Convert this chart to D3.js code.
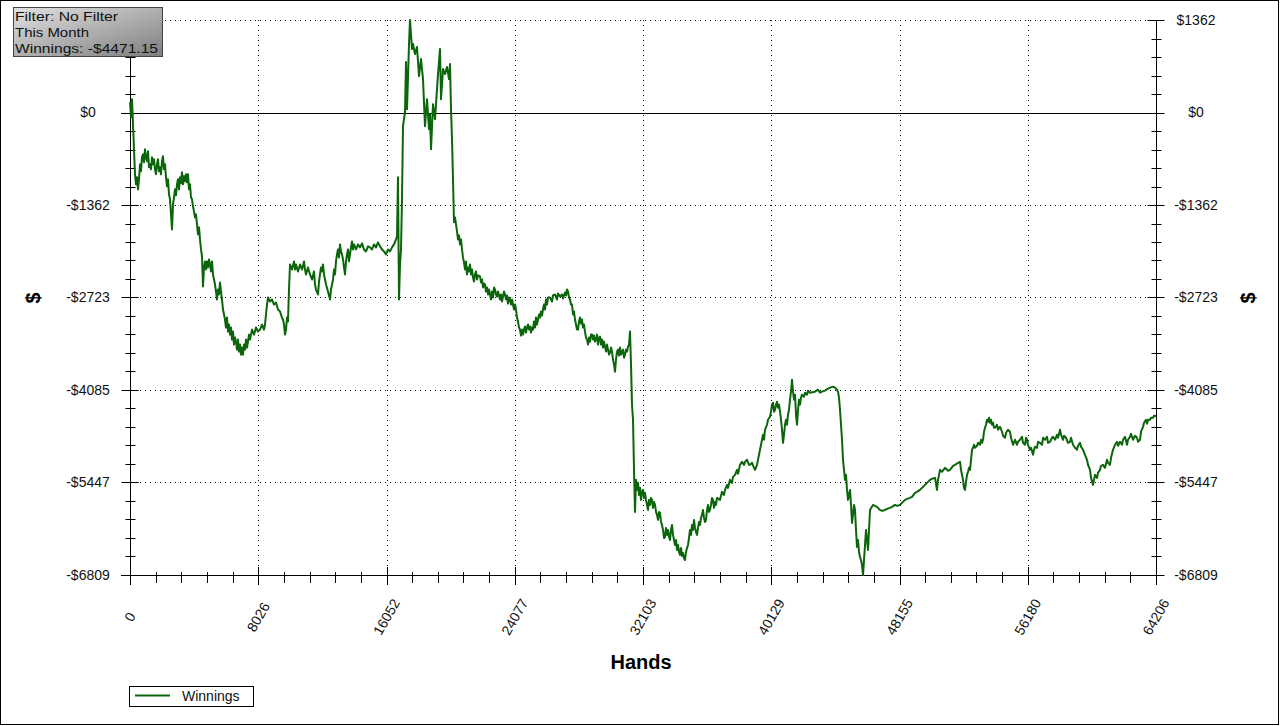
<!DOCTYPE html>
<html><head><meta charset="utf-8">
<script src="https://cdn.jsdelivr.net/npm/d3@7"></script>
<style>body{margin:0;background:#fff} svg{display:block} text{font-family:"Liberation Sans",Arial,sans-serif}</style>
</head><body><svg id="c" width="1284" height="726"></svg>
<script>
// [hand, cumulative winnings $]
const winningsSeries = [
[0,153],[63,-69],[125,197],[188,-172],[250,-541],[313,-909],[375,-1057],[438,-954],[501,-1131],[563,-983],[626,-762],[688,-865],[751,-659],[814,-614],[876,-732],[939,-541],[1001,-659],[1064,-718],[1126,-570],[1189,-806],[1252,-762],[1314,-836],[1377,-659],[1439,-762],[1502,-688],[1565,-836],[1627,-909],[1690,-762],[1752,-688],[1815,-865],[1877,-806],[1940,-909],[2002,-718],[2065,-644],[2128,-836],[2190,-762],[2253,-954],[2315,-1086],[2378,-983],[2440,-1204],[2503,-1278],[2566,-1499],[2628,-1721],[2691,-1352],[2753,-1249],[2816,-1131],[2879,-1219],[2941,-1057],[3004,-983],[3066,-1131],[3129,-954],[3192,-1042],[3254,-880],[3317,-1057],[3379,-939],[3442,-1013],[3504,-909],[3567,-1027],[3630,-909],[3692,-1131],[3755,-1057],[3817,-1249],[3880,-1278],[3943,-1381],[4005,-1455],[4068,-1544],[4130,-1499],[4193,-1647],[4255,-1794],[4318,-1691],[4381,-1868],[4443,-2016],[4506,-2119],[4568,-2561],[4631,-2281],[4694,-2193],[4756,-2311],[4819,-2193],[4881,-2281],[4944,-2163],[5006,-2237],[5069,-2340],[5132,-2193],[5194,-2384],[5257,-2458],[5319,-2532],[5382,-2635],[5444,-2753],[5507,-2606],[5570,-2679],[5632,-2502],[5695,-2635],[5757,-2753],[5820,-2901],[5883,-2974],[5945,-3048],[6008,-3166],[6070,-3019],[6133,-3225],[6195,-3122],[6258,-3270],[6321,-3166],[6383,-3343],[6446,-3225],[6508,-3417],[6571,-3314],[6633,-3373],[6696,-3491],[6759,-3343],[6821,-3520],[6884,-3417],[6946,-3565],[7009,-3461],[7072,-3565],[7134,-3417],[7197,-3491],[7259,-3343],[7322,-3461],[7384,-3373],[7447,-3270],[7510,-3343],[7635,-3196],[7760,-3270],[7885,-3166],[8010,-3225],[8135,-3196],[8261,-3122],[8386,-3196],[8448,-3122],[8511,-2974],[8573,-2827],[8636,-2724],[8761,-2783],[8886,-2753],[9012,-2827],[9137,-2797],[9262,-2901],[9387,-2930],[9512,-3019],[9575,-3048],[9637,-3122],[9700,-3270],[9762,-3196],[9825,-3019],[9888,-3078],[9950,-2606],[10013,-2237],[10138,-2311],[10263,-2193],[10326,-2311],[10388,-2237],[10513,-2340],[10639,-2237],[10764,-2311],[10889,-2193],[10952,-2311],[11014,-2384],[11139,-2281],[11264,-2384],[11390,-2458],[11515,-2340],[11577,-2532],[11640,-2606],[11765,-2679],[11828,-2488],[11890,-2384],[11953,-2281],[12015,-2340],[12078,-2237],[12141,-2384],[12203,-2458],[12266,-2532],[12391,-2635],[12516,-2753],[12579,-2606],[12704,-2458],[12766,-2311],[12829,-2384],[12891,-2193],[12954,-2089],[13017,-2016],[13079,-2134],[13142,-1942],[13204,-2045],[13267,-2089],[13330,-2163],[13392,-2281],[13455,-2384],[13517,-2193],[13580,-2089],[13642,-2016],[13705,-2193],[13768,-2089],[13830,-1986],[13893,-1898],[13955,-2016],[14018,-1942],[14143,-2016],[14268,-1942],[14393,-1986],[14519,-1927],[14644,-2016],[14769,-2045],[14894,-1971],[15019,-1986],[15144,-2016],[15270,-1942],[15395,-1986],[15520,-1912],[15645,-1971],[15770,-2016],[15895,-2045],[16020,-2089],[16146,-2016],[16271,-2045],[16396,-1986],[16521,-1942],[16646,-1868],[16709,-1824],[16771,-954],[16834,-2753],[16897,-2237],[16959,-2016],[17022,-1278],
[17084,-201],[17210,5],[17272,743],[17335,49],[17460,1008],[17522,1362],[17648,934],[17710,1008],[17835,861],[17960,964],[18086,536],[18211,787],[18336,492],[18461,-201],[18586,197],[18711,-246],[18774,-24],[18837,-541],[18962,123],[19087,-98],[19212,344],[19275,566],[19400,934],[19463,197],[19588,640],[19713,566],[19838,669],[19963,492],[20026,713],[20088,49],[20151,-393],[20213,-983],
[20276,-1617],[20338,-1544],[20401,-1647],[20464,-1750],[20526,-1868],[20589,-1809],[20651,-1942],[20714,-1868],[20777,-2016],[20839,-2134],[20902,-2207],[20964,-2311],[21027,-2193],[21089,-2384],[21152,-2281],[21215,-2340],[21277,-2237],[21340,-2384],[21402,-2311],[21465,-2428],[21528,-2488],[21590,-2384],[21653,-2340],[21715,-2458],[21778,-2399],[21903,-2414],[21966,-2502],[22028,-2458],[22091,-2576],[22153,-2517],[22216,-2532],[22278,-2635],[22341,-2576],[22404,-2679],[22466,-2606],[22529,-2679],[22591,-2753],[22654,-2635],[22717,-2724],[22779,-2576],[22842,-2606],[22904,-2679],[22967,-2709],[23029,-2635],[23155,-2753],[23217,-2679],[23280,-2783],[23343,-2709],[23405,-2635],[23468,-2679],[23530,-2753],[23593,-2694],[23655,-2812],[23718,-2724],[23780,-2753],[23843,-2827],[23906,-2753],[23968,-2827],[24031,-2901],[24093,-2827],[24156,-2901],[24218,-3019],[24281,-3078],[24344,-3166],[24406,-3196],[24469,-3284],[24531,-3196],[24594,-3270],[24656,-3196],[24719,-3151],[24782,-3240],[24844,-3166],[24907,-3122],[24969,-3196],[25032,-3151],[25094,-3240],[25157,-3166],[25220,-3196],[25282,-3078],[25345,-3166],[25407,-3019],[25470,-3122],[25533,-3048],[25595,-2974],[25658,-3019],[25720,-2930],[25783,-2989],[25845,-2901],[25908,-2827],[25971,-2901],[26033,-2753],[26096,-2827],[26158,-2724],[26284,-2724],[26409,-2783],[26471,-2694],[26597,-2679],[26722,-2753],[26784,-2665],[26909,-2709],[27035,-2679],[27097,-2738],[27222,-2650],[27285,-2694],[27347,-2606],[27410,-2635],[27473,-2724],[27535,-2753],[27598,-2827],[27660,-2827],[27723,-2974],[27785,-2930],[27848,-3048],[27911,-3122],[27973,-3196],[28036,-3196],[28098,-3078],[28161,-3019],[28223,-3107],[28286,-3048],[28349,-3166],[28411,-3122],[28474,-3225],[28536,-3314],[28599,-3343],[28662,-3417],[28724,-3314],[28787,-3373],[28849,-3270],[28912,-3270],[28974,-3343],[29037,-3284],[29100,-3373],[29162,-3343],[29225,-3270],[29287,-3417],[29350,-3314],[29413,-3299],[29475,-3417],[29538,-3343],[29600,-3461],[29663,-3373],[29726,-3447],[29788,-3520],[29851,-3417],[29913,-3491],[29976,-3565],[30038,-3535],[30101,-3461],[30164,-3520],[30226,-3638],[30289,-3712],[30351,-3815],[30414,-3638],[30476,-3520],[30539,-3491],[30602,-3579],[30664,-3461],[30727,-3565],[30789,-3520],[30852,-3491],[30915,-3609],[30977,-3565],[31040,-3491],[31102,-3520],[31165,-3447],[31228,-3417],[31290,-3225],[31353,-3712],[31415,-4302],
[31478,-4523],[31540,-5261],[31603,-5880],[31665,-5408],[31728,-5556],[31791,-5452],[31853,-5630],[31916,-5526],[31978,-5703],[32041,-5585],[32104,-5556],[32166,-5674],[32229,-5600],[32291,-5703],[32354,-5777],[32416,-5851],[32479,-5703],[32542,-5777],[32604,-5674],[32667,-5703],[32729,-5821],[32792,-5733],[32855,-5777],[32917,-5880],[32980,-5924],[33042,-5998],[33105,-5880],[33167,-5895],[33230,-6028],[33293,-6072],[33355,-6146],[33418,-6264],[33480,-6249],[33543,-6116],[33605,-6219],[33668,-6146],[33731,-6249],[33793,-6293],[33856,-6146],[33918,-6072],[33981,-6219],[34044,-6293],[34106,-6367],[34169,-6293],[34231,-6441],[34294,-6367],[34356,-6470],[34419,-6514],[34482,-6411],[34544,-6529],[34607,-6485],[34669,-6559],[34732,-6588],[34795,-6470],[34857,-6411],[34920,-6367],[34982,-6264],[35045,-6146],[35108,-6219],[35170,-6072],[35233,-6146],[35295,-5998],[35358,-6116],[35420,-6175],[35483,-6219],[35546,-6116],[35608,-6028],[35671,-6072],[35733,-5969],[35796,-5924],[35858,-5851],[35921,-5969],[35984,-6028],[36046,-5998],[36109,-5851],[36171,-5777],[36234,-5880],[36296,-5851],[36359,-5777],[36422,-5674],[36484,-5703],[36547,-5821],[36609,-5733],[36672,-5777],[36735,-5674],[36922,-5703],[37047,-5585],[37172,-5630],[37235,-5556],[37360,-5482],[37423,-5526],[37548,-5408],[37673,-5452],[37736,-5364],[37861,-5335],[37986,-5261],[38049,-5320],[38174,-5187],[38299,-5143],[38424,-5187],[38487,-5143],[38612,-5113],[38737,-5187],[38800,-5187],[38925,-5157],[39050,-5231],[39113,-5261],[39238,-5187],[39300,-5113],[39425,-4966],[39488,-4892],[39551,-4818],[39613,-4744],[39676,-4818],[39738,-4671],[39863,-4597],[39926,-4523],[40051,-4479],[40114,-4405],[40176,-4302],[40239,-4272],[40301,-4405],[40364,-4376],[40427,-4302],[40489,-4258],[40552,-4346],[40614,-4302],[40677,-4405],[40740,-4523],[40802,-4671],[40865,-4863],[40927,-4744],[40990,-4597],[41052,-4523],[41115,-4597],[41178,-4449],[41240,-4376],[41303,-4228],[41365,-4110],[41428,-3933],[41491,-4110],[41553,-4228],[41616,-4154],[41678,-4449],[41741,-4597],[41804,-4376],[41866,-4228],[41929,-4302],[41991,-4199],[42054,-4154],[42179,-4184],[42242,-4125],[42367,-4154],[42429,-4095],[42554,-4125],[42867,-4110],[43055,-4081],[43180,-4125],[43305,-4110],[43493,-4095],[43681,-4066],[43806,-4051],[43994,-4036],[44119,-4051],[44244,-4081],[44307,-4110],[44369,-4199],[44432,-4376],[44494,-4597],[44557,-4818],[44620,-5113],[44682,-5261],[44745,-5408],[44807,-5335],[44870,-5556],[44932,-5703],[44995,-5630],[45058,-5556],[45120,-5777],[45183,-6042],[45245,-5924],[45308,-5777],[45371,-5851],[45433,-6146],[45496,-6396],[45558,-6293],[45621,-6470],[45683,-6544],[45746,-6588],[45809,-6662],[45871,-6809],[45934,-6588],[45996,-6367],[46059,-6146],[46121,-6293],[46184,-6441],[46247,-6146],[46309,-5851],
[46497,-5777],[46622,-5792],[46747,-5806],[46935,-5851],[47060,-5865],[47248,-5851],[47373,-5836],[47561,-5821],[47686,-5806],[47874,-5777],[47999,-5792],[48187,-5777],[48312,-5747],[48500,-5703],[48625,-5688],[48812,-5674],[48938,-5659],[49125,-5600],[49250,-5585],[49438,-5556],[49563,-5526],[49751,-5482],[49876,-5452],[50064,-5408],[50189,-5393],[50377,-5379],[50502,-5556],[50565,-5408],[50690,-5261],[50815,-5290],[51003,-5231],[51191,-5275],[51316,-5261],[51504,-5202],[51629,-5187],[51816,-5157],[51941,-5143],
[52004,-5261],[52067,-5335],[52129,-5408],[52192,-5526],[52254,-5556],[52317,-5438],[52379,-5335],[52442,-5290],[52505,-5231],[52567,-5261],[52630,-5113],[52692,-4966],[52755,-4936],[52818,-4892],[52880,-4936],[53005,-4907],[53068,-4863],[53193,-4892],[53256,-4818],[53318,-4863],[53381,-4818],[53443,-4700],[53506,-4641],[53568,-4597],[53631,-4523],[53694,-4553],[53756,-4494],[53819,-4567],[53881,-4523],[53944,-4597],[54007,-4567],[54069,-4641],[54132,-4641],[54257,-4597],[54319,-4671],[54445,-4627],[54570,-4700],[54632,-4759],[54758,-4789],[54820,-4715],[54945,-4671],[55070,-4700],[55133,-4789],[55258,-4892],[55383,-4818],[55508,-4892],[55571,-4848],[55696,-4818],[55821,-4774],[55884,-4863],[56009,-4892],[56072,-4789],[56134,-4818],[56197,-4892],[56322,-4966],[56385,-4936],[56510,-5040],[56572,-4966],[56635,-4921],[56760,-4936],[56823,-4848],[56948,-4863],[57073,-4892],[57136,-4789],[57261,-4818],[57386,-4774],[57448,-4863],[57574,-4848],[57699,-4789],[57761,-4774],[57887,-4818],[58012,-4744],[58074,-4789],[58199,-4671],[58262,-4744],[58387,-4818],[58450,-4759],[58575,-4789],[58700,-4863],[58825,-4848],[58888,-4789],[59013,-4892],[59138,-4936],[59263,-4966],[59326,-4907],[59451,-4863],[59514,-4921],[59639,-4966],[59764,-5040],[59889,-5113],[59952,-5187],[60077,-5261],[60140,-5379],[60265,-5482],[60327,-5408],[60390,-5335],[60515,-5379],[60577,-5305],[60703,-5261],[60765,-5202],[60890,-5187],[61016,-5231],[61141,-5113],[61203,-5157],[61328,-5187],[61391,-5084],[61516,-4966],[61641,-4892],[61766,-4848],[61829,-4907],[61954,-4848],[62079,-4892],[62142,-4818],[62267,-4774],[62392,-4892],[62455,-4818],[62580,-4774],[62643,-4730],[62768,-4818],[62893,-4759],[63018,-4789],[63081,-4848],[63206,-4818],[63268,-4700],[63393,-4627],[63456,-4567],[63581,-4523],[63644,-4582],[63706,-4523],[63832,-4523],[63894,-4494],[64019,-4494],[64082,-4464],[64206,-4471.15]
];
const xTicks = [0, 8026, 16052, 24077, 32103, 40129, 48155, 56180, 64206];
const yTicks = [1362, 0, -1362, -2723, -4085, -5447, -6809];
const yTickLabels = ["$1362", "$0", "-$1362", "-$2723", "-$4085", "-$5447", "-$6809"];
const filterLines = ["Filter: No Filter", "This Month", "Winnings: -$4471.15"];
const seriesName = "Winnings";
const xTitle = "Hands";
const yTitle = "$";

const svg = d3.select("#c");
const L = 130, R = 1156, T = 20, B = 575;
const x = d3.scaleLinear().domain([0, 64206]).range([L, R]);
const y = d3.scaleLinear().domain([-6809, 1362]).range([B, T]);
const px = v => Math.round(x(v)) + 0.5;
const py = v => Math.round(y(v)) + 0.5;
const green = "#0b650b";

svg.append("rect").attr("width", 1284).attr("height", 726).attr("fill", "#fff");
svg.append("rect").attr("x", 0.5).attr("y", 0.5).attr("width", 1278).attr("height", 724)
  .attr("fill", "none").attr("stroke", "#000");

// grid
const g = svg.append("g");
xTicks.slice(1, -1).forEach(t => {
  g.append("line").attr("x1", px(t)).attr("x2", px(t)).attr("y1", T).attr("y2", B)
    .attr("stroke", "#000").attr("stroke-dasharray", "1,4");
});
yTicks.filter(t => t !== 0 && t !== -6809).forEach(t => {
  g.append("line").attr("x1", L).attr("x2", R).attr("y1", py(t)).attr("y2", py(t))
    .attr("stroke", "#000").attr("stroke-dasharray", "1,4");
});
g.append("line").attr("x1", L - 9).attr("x2", R + 8).attr("y1", py(0)).attr("y2", py(0)).attr("stroke", "#000");

// axes
const ax = svg.append("g").attr("stroke", "#000");
ax.append("line").attr("x1", px(0)).attr("x2", px(0)).attr("y1", T).attr("y2", B + 9);
ax.append("line").attr("x1", px(64206)).attr("x2", px(64206)).attr("y1", T).attr("y2", B + 9);
ax.append("line").attr("x1", L - 9).attr("x2", R + 8).attr("y1", py(-6809)).attr("y2", py(-6809));

function minors(arr) {
  const out = [];
  for (let i = 0; i < arr.length - 1; i++) {
    for (let k = 1; k < 5; k++) out.push(arr[i] + (arr[i + 1] - arr[i]) * k / 5);
  }
  return out;
}
const ySorted = yTicks.slice().sort((a, b) => a - b);
[px(0), px(64206)].forEach(ax0 => {
  yTicks.forEach(t => ax.append("line").attr("x1", ax0 - 9).attr("x2", ax0 + 8).attr("y1", py(t)).attr("y2", py(t)));
  minors(ySorted).forEach(t => ax.append("line").attr("x1", ax0 - 5).attr("x2", ax0 + 5).attr("y1", py(t)).attr("y2", py(t)));
});
xTicks.forEach(t => ax.append("line").attr("x1", px(t)).attr("x2", px(t)).attr("y1", B - 8).attr("y2", B + 10));
minors(xTicks).forEach(t => ax.append("line").attr("x1", px(t)).attr("x2", px(t)).attr("y1", B - 3).attr("y2", B + 8));

// y labels (the left top label sits under the filter box in the reference)
yTicks.forEach((t, i) => {
  if (i > 0) {
    svg.append("text").attr("x", 88).attr("y", y(t)).attr("dy", "0.35em").attr("text-anchor", "middle")
      .attr("font-size", 14).attr("fill", "#111").text(yTickLabels[i]);
  }
  svg.append("text").attr("x", 1196).attr("y", y(t)).attr("dy", "0.35em").attr("text-anchor", "middle")
    .attr("font-size", 14).attr("fill", "#111").text(yTickLabels[i]);
});
xTicks.forEach(t => {
  svg.append("text").attr("transform", `translate(${x(t)},617) rotate(-60)`).attr("dy", "0.35em")
    .attr("text-anchor", "middle").attr("font-size", 14).attr("fill", "#111").text(d3.format("d")(t));
});

svg.append("text").attr("x", 641).attr("y", 669).attr("text-anchor", "middle").attr("font-size", 20)
  .attr("font-weight", "bold").text(xTitle);
[33, 1248].forEach(cx => {
  svg.append("text").attr("transform", `translate(${cx},298) rotate(-90)`).attr("dy", "0.35em")
    .attr("text-anchor", "middle").attr("font-size", 20).attr("font-weight", "bold").text(yTitle);
});

// series
const line = d3.line().x(d => x(d[0])).y(d => y(d[1]));
svg.append("path").datum(winningsSeries).attr("d", line).attr("fill", "none")
  .attr("stroke", green).attr("stroke-width", 2).attr("stroke-linejoin", "round");

// legend
svg.append("rect").attr("x", 129.5).attr("y", 686.5).attr("width", 124).attr("height", 20)
  .attr("fill", "#fff").attr("stroke", "#000");
svg.append("line").attr("x1", 135).attr("x2", 170).attr("y1", 695.5).attr("y2", 695.5)
  .attr("stroke", green).attr("stroke-width", 2);
svg.append("text").attr("x", 182).attr("y", 696).attr("dy", "0.35em").attr("font-size", 14).attr("fill", "#111").text(seriesName);

// filter box
const defs = svg.append("defs");
const grad = defs.append("linearGradient").attr("id", "fg").attr("x1", "0").attr("y1", "0").attr("x2", "1").attr("y2", "1");
grad.append("stop").attr("offset", "0").attr("stop-color", "#e2e2e2");
grad.append("stop").attr("offset", "1").attr("stop-color", "#7e7e7e");
svg.append("rect").attr("x", 13.5).attr("y", 7.5).attr("width", 149).attr("height", 49)
  .attr("fill", "url(#fg)").attr("stroke", "#444");
const widths = [103, 74, 143];
filterLines.forEach((s, i) => {
  svg.append("text").attr("x", 15).attr("y", 21 + i * 16).attr("font-family", "'DejaVu Sans',sans-serif")
    .attr("font-size", 13).attr("fill", "#111").attr("textLength", widths[i]).attr("lengthAdjust", "spacingAndGlyphs").text(s);
});
</script>
</body></html>
